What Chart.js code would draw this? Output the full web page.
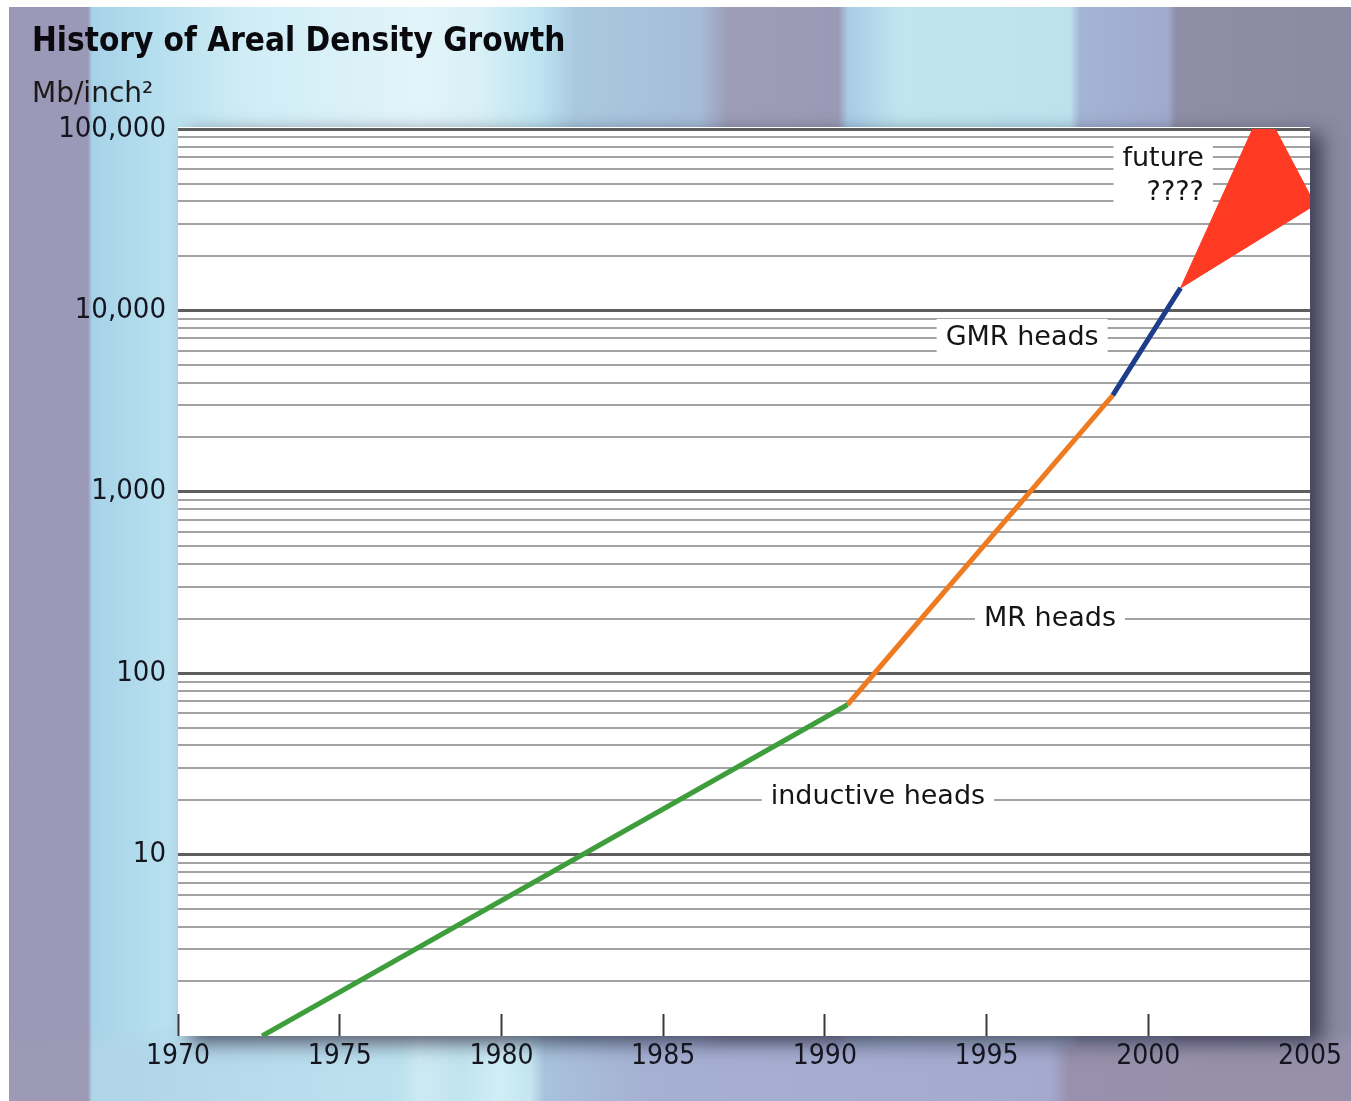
<!DOCTYPE html>
<html>
<head>
<meta charset="utf-8">
<script src="https://cdn.jsdelivr.net/npm/chart.js@4/dist/chart.umd.min.js"></script>
<style>
html,body{margin:0;padding:0;background:#fff;}
#wrap{position:relative;width:1351px;height:1101px;overflow:hidden;background:#fff;}
#bgTop{position:absolute;left:9px;top:7px;right:0;bottom:0;
background:linear-gradient(to right,
#9a98b6 0px,#9b99b7 79px,#a6d2e8 83px,#b4deee 141px,#d0edf6 241px,#e2f4f9 411px,#d8f0f6 471px,#bde4f0 531px,
#a9c9e0 566px,#a6bcd8 691px,#9d9db8 719px,#9b9ab6 829px,#a8cce6 839px,#bfe6f0 891px,#bde2ee 1061px,
#a4b4d4 1071px,#a0aacc 1159px,#8e8ea6 1167px,#8a8aa2 1342px);}
#bgBot{position:absolute;left:9px;right:0;bottom:0;height:75px;
-webkit-mask-image:linear-gradient(to bottom,transparent 0px,#000 25px);mask-image:linear-gradient(to bottom,transparent 0px,#000 25px);
background:linear-gradient(to right,
#9c9ab4 0px,#9c9ab4 79px,#b0d4e8 83px,#bde2ef 391px,#cdeaf4 411px,#c0e4f0 451px,#d0eef6 491px,#c4e6f0 521px,
#a8c2dc 536px,#a6b0d2 641px,#a4aace 1041px,#9890ac 1061px,#9690aa 1342px);}
canvas{position:absolute;left:0;top:0;}
</style>
</head>
<body>
<div id="wrap"><div id="bgTop"></div><div id="bgBot"></div><canvas id="c" width="1351" height="1101"></canvas></div>
<script>
// ---- data ----
const xTickValues = [1970, 1975, 1980, 1985, 1990, 1995, 2000, 2005];
const yDecades = [1, 10, 100, 1000, 10000, 100000];
const yTickLabels = ['', '10', '100', '1,000', '10,000', '100,000'];

const inductiveX = [1972.6, 1990.7];
const inductiveY = [1, 67];
const mrX = [1990.7, 1998.9];
const mrY = [67, 3400];
const gmrX = [1998.9, 2001.0];
const gmrY = [3400, 13300];
const futureLowX = [2001.0, 2005.16];
const futureLowY = [13300, 38200];
const futureHighX = [2001.0, 2003.55, 2005.16];
const futureHighY = [13300, 134000, 38200];

const annoLines = [['future', '????'], ['GMR heads'], ['MR heads'], ['inductive heads']];
const annoX = [2001.72, 1996.10, 1996.96, 1991.64];
const annoY = [55400, 7050, 200, 20.8];
const annoAlign = ['right', 'center', 'center', 'center'];

// ---- helpers ----
const pts = (xs, ys) => xs.map((x, i) => ({x: x, y: ys[i]}));
const yGridValues = [];
yDecades.forEach((d, i) => {
  if (i === yDecades.length - 1) { yGridValues.push(d); return; }
  for (let m = 1; m <= 9; m++) yGridValues.push(d * m);
});
const isDecade = v => {
  const e = Math.round(Math.log10(v));
  return Math.abs(v - Math.pow(10, e)) < 1e-6 * v;
};
const labelFont = "'DejaVu Sans', sans-serif";
const tickFont = "'DejaVu Sans Condensed', 'DejaVu Sans', sans-serif";

const plotBg = {
  id: 'plotBg',
  beforeDraw(chart) {
    const {ctx, chartArea: a} = chart;
    ctx.save();
    ctx.shadowColor = 'rgba(45,45,70,0.8)';
    ctx.shadowBlur = 18;
    ctx.shadowOffsetX = 12;
    ctx.shadowOffsetY = 7;
    ctx.fillStyle = '#ffffff';
    ctx.fillRect(a.left, a.top - 2, a.width, a.height + 2);
    ctx.restore();
  }
};

const headLabels = {
  id: 'headLabels',
  beforeDatasetsDraw(chart) {
    const {ctx, scales} = chart;
    const lh = 34, padX = 9, padY = 2;
    ctx.save();
    ctx.font = "27px " + labelFont;
    ctx.textBaseline = 'middle';
    annoLines.forEach((lines, i) => {
      const px = scales.x.getPixelForValue(annoX[i]);
      const py = scales.y.getPixelForValue(annoY[i]);
      const w = Math.max(...lines.map(t => ctx.measureText(t).width));
      const h = lines.length * lh;
      const left = annoAlign[i] === 'right' ? px - w : px - w / 2;
      ctx.fillStyle = '#ffffff';
      ctx.fillRect(left - padX, py - h / 2 - padY, w + 2 * padX, h + 2 * padY);
      ctx.fillStyle = '#151515';
      lines.forEach((t, j) => {
        const ty = py - h / 2 + lh * (j + 0.5);
        ctx.textAlign = annoAlign[i];
        ctx.fillText(t, px, ty);
      });
    });
    ctx.restore();
  }
};

const lineDs = (label, data, color) => ({
  label, data, borderColor: color, backgroundColor: color,
  borderWidth: 5, pointRadius: 0, fill: false, tension: 0, borderCapStyle: 'butt'
});

new Chart(document.getElementById('c'), {
  type: 'line',
  data: {
    datasets: [
      lineDs('inductive heads', pts(inductiveX, inductiveY), '#3f9e3c'),
      lineDs('MR heads', pts(mrX, mrY), '#ef7b21'),
      lineDs('GMR heads', pts(gmrX, gmrY), '#1d3c8c'),
      {label: 'future low', data: pts(futureLowX, futureLowY), borderColor: '#ff3a22', borderWidth: 1,
       pointRadius: 0, fill: false, tension: 0},
      {label: 'future high', data: pts(futureHighX, futureHighY), borderColor: '#ff3a22', backgroundColor: '#ff3a22',
       borderWidth: 1, pointRadius: 0, fill: '-1', tension: 0}
    ]
  },
  options: {
    responsive: false,
    animation: false,
    devicePixelRatio: 1,
    layout: {padding: {left: 32, right: 41, top: 0, bottom: 0}},
    plugins: {
      legend: {display: false},
      tooltip: {enabled: false},
      title: {
        display: true, text: 'History of Areal Density Growth', align: 'start', color: '#0a0a0e',
        font: {family: tickFont, size: 33, weight: 'bold', lineHeight: 1},
        padding: {top: 26, bottom: 0}
      },
      subtitle: {
        display: true, text: 'Mb/inch²', align: 'start', color: '#1a1a1a',
        font: {family: labelFont, size: 28, lineHeight: 1},
        padding: {top: 22, bottom: 20}
      }
    },
    scales: {
      x: {
        type: 'linear', min: 1970, max: 2005,
        afterBuildTicks: s => { s.ticks = xTickValues.map(v => ({value: v})); },
        afterFit: s => { s.height = 65; s.paddingLeft = 0; s.paddingRight = 0; },
        border: {display: false},
        grid: {
          display: true, drawOnChartArea: false, drawTicks: true, tickLength: -22, tickWidth: 2,
          tickColor: c => (c.tick && c.tick.value === 2005) ? 'rgba(0,0,0,0)' : '#3a3a3a'
        },
        ticks: {
          padding: 26, color: '#151520', autoSkip: false, maxRotation: 0,
          font: {family: tickFont, size: 28},
          callback: v => String(v)
        }
      },
      y: {
        type: 'logarithmic', min: 1, max: 100000,
        afterBuildTicks: s => { s.ticks = yGridValues.map(v => ({value: v})); },
        afterFit: s => { s.width = 178 - 32; },
        border: {display: false},
        grid: {
          drawTicks: false,
          color: c => {
            const v = c.tick ? c.tick.value : 0;
            if (v === 1) return 'rgba(0,0,0,0)';
            return isDecade(v) ? '#5e5e5e' : '#a2a2a2';
          },
          lineWidth: c => (c.tick && isDecade(c.tick.value)) ? 3 : 2
        },
        ticks: {
          padding: 12, color: '#151520', autoSkip: false,
          font: {family: tickFont, size: 29},
          callback: v => {
            if (!isDecade(v)) return '';
            const idx = yDecades.findIndex(d => Math.abs(d - v) < 1e-6 * d);
            return idx >= 0 ? yTickLabels[idx] : '';
          }
        }
      }
    }
  },
  plugins: [plotBg, headLabels]
});
</script>
</body>
</html>
